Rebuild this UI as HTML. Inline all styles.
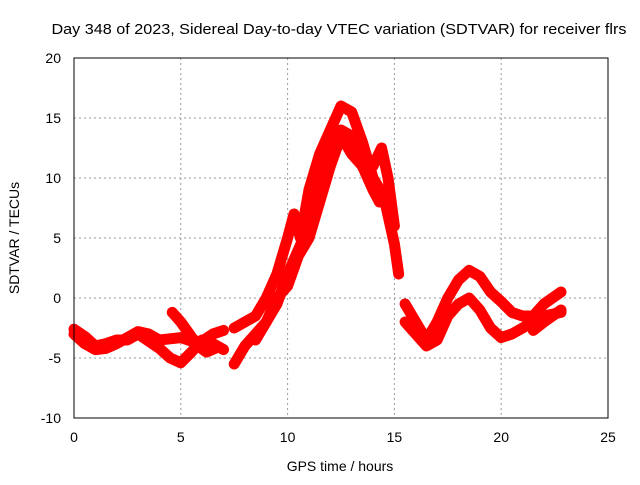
<!DOCTYPE html>
<html><head><meta charset="utf-8"><style>
body{margin:0;background:#fff}
svg text{font-family:"Liberation Sans",sans-serif;font-size:14px;fill:#000}
</style></head><body>
<svg id="c" width="640" height="480">
<text x="339" y="34" text-anchor="middle" textLength="575" lengthAdjust="spacingAndGlyphs" style="font-size:15px">Day 348 of 2023, Sidereal Day-to-day VTEC variation (SDTVAR) for receiver flrs</text>
<text x="340" y="471" text-anchor="middle">GPS time / hours</text>
<text transform="translate(19,238) rotate(-90)" text-anchor="middle">SDTVAR / TECUs</text>
<g id="grid"></g><g id="marks"></g>
<rect x="74" y="58" width="534" height="360" fill="none" stroke="#000" stroke-width="1"/>
</svg>
<script>
const xTicks=[0,5,10,15,20,25];
const yTicks=[-10,-5,0,5,10,15,20];
const tracks=[
{h:[0,0.5,1,1.5,2,2.5,3,3.5,4,4.5,5,5.5,6,6.5,7],v:[-2.6,-3.2,-4,-3.8,-3.5,-3.5,-3,-3.6,-4.2,-5,-5.4,-4.5,-3.5,-3.8,-4.3]},
{h:[0,0.5,1,1.5,2,2.5,3,3.5,4,4.5,5,5.5,6,6.5,7],v:[-3,-3.8,-4.3,-4.2,-3.8,-3.3,-2.8,-3,-3.5,-3.4,-3.3,-3.6,-3.6,-3,-2.7]},
{h:[4.6,5,5.4,5.8,6.2,6.6],v:[-1.2,-2,-3,-4,-4.5,-4.2]},
{h:[7.5,8,8.5,9,9.5,10,10.3,10.6,11,11.5,12,12.5,13,13.5,14,14.5,15,15.2],v:[-2.5,-2,-1.5,0,2,5,7,5,9,12,14,16,15.5,13,10,8.5,4.5,2]},
{h:[7.5,8,8.5,9,9.5,10,10.5,11,11.5,12,12.5,13,13.5,14,14.3],v:[-5.5,-4,-3,-2,-0.5,2,4,6,9.5,12,14,13.5,11,9,8]},
{h:[8.5,9,9.5,10,10.5,11,11.5,12,12.5,13,13.5,14,14.4,14.7,15],v:[-3.5,-2,0,1,3.5,5,8,11,13.5,12,11,11,12.5,10,6]},
{h:[15.5,16,16.5,17,17.5,18,18.5,19,19.5,20,20.5,21,21.5,22,22.8],v:[-0.5,-2,-3.5,-2,0,1.5,2.3,1.8,0.5,-0.3,-1.2,-1.5,-1.5,-0.5,0.5]},
{h:[15.5,16,16.5,17,17.5,18,18.5,19,19.5,20,20.5,21,21.5,22,22.8],v:[-2,-3,-4,-3.5,-1.5,-0.5,0,-1,-2.5,-3.3,-3,-2.5,-2,-1.5,-1.2]},
{h:[21.5,22,22.8],v:[-2.7,-2,-1]}
];
const X=h=>74+h*534/25, Y=v=>418-(v+10)*12;
const NS='http://www.w3.org/2000/svg';
const svg=document.getElementById('c'),grid=document.getElementById('grid'),marks=document.getElementById('marks');
function mk(t,a,p){const e=document.createElementNS(NS,t);for(const k in a)e.setAttribute(k,a[k]);p.appendChild(e);return e;}
xTicks.forEach(t=>{
 if(t>0&&t<25){const l=mk('line',{x1:X(t),x2:X(t),y1:58,y2:418,stroke:'#999','stroke-dasharray':'2,3'},grid);
 
 }
 const tx=mk('text',{x:X(t),y:442,'text-anchor':'middle'},svg);tx.textContent=t;
 
 
});
yTicks.forEach(t=>{
 if(t>-10&&t<20){const l=mk('line',{x1:74,x2:608,y1:Y(t),y2:Y(t),stroke:'#999','stroke-dasharray':'2,3'},grid);
 
 }
 const tx=mk('text',{x:61,y:Y(t)+5,'text-anchor':'end'},svg);tx.textContent=t;
 
 
});
tracks.forEach(tr=>{
 const pts=tr.h.map((h,i)=>X(h)+','+Y(tr.v[i])).join(' ');
 const p=mk('polyline',{points:pts,fill:'none',stroke:'#f00','stroke-width':11,'stroke-linejoin':'round','stroke-linecap':'round'},marks);
 
 
});
</script>
</body></html>
